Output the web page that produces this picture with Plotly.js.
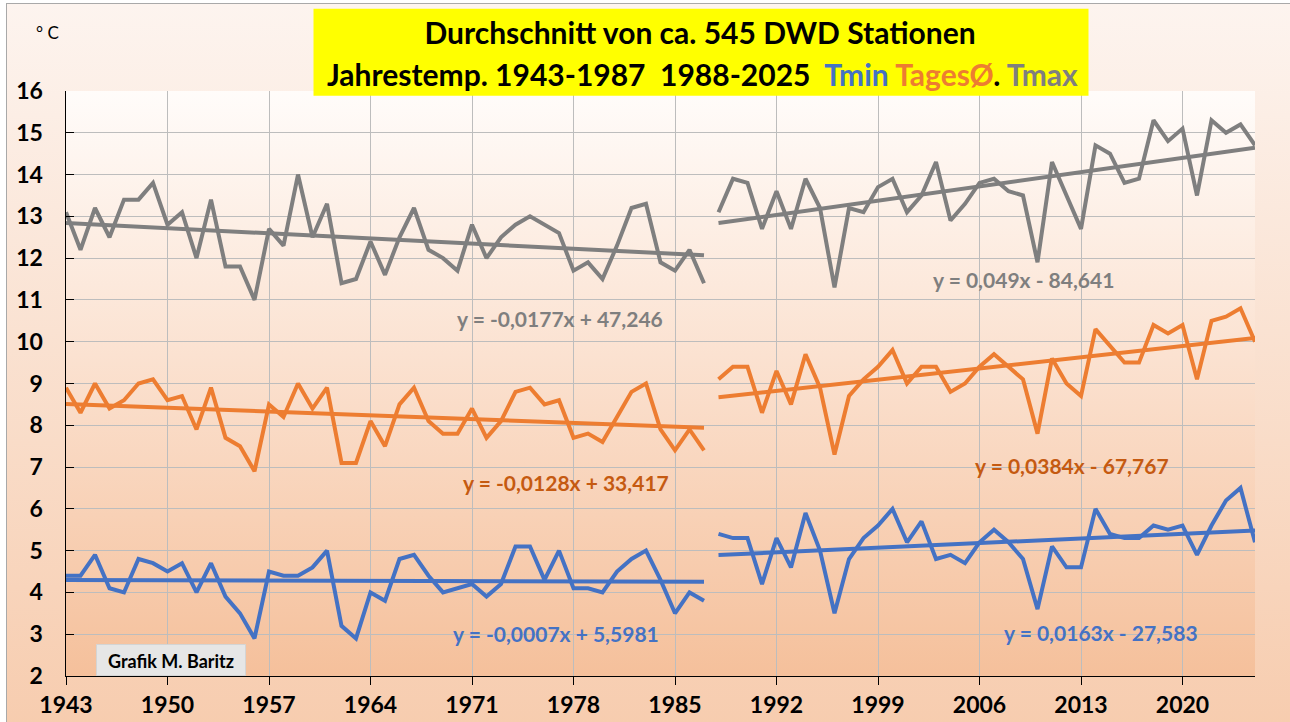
<!DOCTYPE html>
<html>
<head>
<meta charset="utf-8">
<script src="https://cdn.plot.ly/plotly-3.0.1.min.js"></script>
<style>
  html, body { margin: 0; padding: 0; background: #ffffff; }
  #wrap { position: relative; width: 1290px; height: 722px; overflow: hidden; background: #ffffff; }
  #frame { position: absolute; left: 6px; top: 3px; width: 1300px; height: 730px;
           border-left: 1px solid #a9a9a9; border-top: 1px solid #a9a9a9;
           background: linear-gradient(to bottom, #fdf4ef 0%, #f9dcc8 60%, #f7ccae 100%); }
  #plotbg { position: absolute; left: 65.5px; top: 91.3px; width: 1189px; height: 585px;
            background: linear-gradient(to bottom, #fffcfa 0%, #fbe2d1 45%, #f5c09b 100%); }
  #chart { position: absolute; left: 0; top: 0; width: 1290px; height: 722px; }
</style>
</head>
<body>
<div id="wrap">
  <div id="frame"></div>
  <div id="plotbg"></div>
  <div id="chart"></div>
</div>
<script>
// ---------- data ----------
const years1 = [1943,1944,1945,1946,1947,1948,1949,1950,1951,1952,1953,1954,1955,1956,1957,1958,1959,1960,1961,1962,1963,1964,1965,1966,1967,1968,1969,1970,1971,1972,1973,1974,1975,1976,1977,1978,1979,1980,1981,1982,1983,1984,1985,1986,1987];
const years2 = [1988,1989,1990,1991,1992,1993,1994,1995,1996,1997,1998,1999,2000,2001,2002,2003,2004,2005,2006,2007,2008,2009,2010,2011,2012,2013,2014,2015,2016,2017,2018,2019,2020,2021,2022,2023,2024,2025];

const tmax1 = [13.1,12.2,13.2,12.5,13.4,13.4,13.8,12.8,13.1,12.0,13.4,11.8,11.8,11.0,12.7,12.3,14.0,12.5,13.3,11.4,11.5,12.4,11.6,12.5,13.2,12.2,12.0,11.7,12.8,12.0,12.5,12.8,13.0,12.8,12.6,11.7,11.9,11.5,12.3,13.2,13.3,11.9,11.7,12.2,11.4];
const tmean1 = [8.9,8.3,9.0,8.4,8.6,9.0,9.1,8.6,8.7,7.9,8.9,7.7,7.5,6.9,8.5,8.2,9.0,8.4,8.9,7.1,7.1,8.1,7.5,8.5,8.9,8.1,7.8,7.8,8.4,7.7,8.1,8.8,8.9,8.5,8.6,7.7,7.8,7.6,8.2,8.8,9.0,7.9,7.4,7.9,7.4];
const tmin1 = [4.4,4.4,4.9,4.1,4.0,4.8,4.7,4.5,4.7,4.0,4.7,3.9,3.5,2.9,4.5,4.4,4.4,4.6,5.0,3.2,2.9,4.0,3.8,4.8,4.9,4.4,4.0,4.1,4.2,3.9,4.2,5.1,5.1,4.3,5.0,4.1,4.1,4.0,4.5,4.8,5.0,4.3,3.5,4.0,3.8];

const tmax2 = [13.1,13.9,13.8,12.7,13.6,12.7,13.9,13.2,11.3,13.2,13.1,13.7,13.9,13.1,13.5,14.3,12.9,13.3,13.8,13.9,13.6,13.5,11.9,14.3,13.5,12.7,14.7,14.5,13.8,13.9,15.3,14.8,15.1,13.5,15.3,15.0,15.2,14.7];
const tmean2 = [9.1,9.4,9.4,8.3,9.3,8.5,9.7,8.9,7.3,8.7,9.1,9.4,9.8,9.0,9.4,9.4,8.8,9.0,9.4,9.7,9.4,9.1,7.8,9.6,9.0,8.7,10.3,9.9,9.5,9.5,10.4,10.2,10.4,9.1,10.5,10.6,10.8,10.0];
const tmin2 = [5.4,5.3,5.3,4.2,5.3,4.6,5.9,5.0,3.5,4.8,5.3,5.6,6.0,5.2,5.7,4.8,4.9,4.7,5.2,5.5,5.2,4.8,3.6,5.1,4.6,4.6,6.0,5.4,5.3,5.3,5.6,5.5,5.6,4.9,5.6,6.2,6.5,5.2];

const equations = {
  tmax1: "y = -0,0177x + 47,246",
  tmax2: "y = 0,049x - 84,641",
  tmean1: "y = -0,0128x + 33,417",
  tmean2: "y = 0,0384x - 67,767",
  tmin1: "y = -0,0007x + 5,5981",
  tmin2: "y = 0,0163x - 27,583"
};
const xTicks = [1943,1950,1957,1964,1971,1978,1985,1992,1999,2006,2013,2020];
const yTicks = [2,3,4,5,6,7,8,9,10,11,12,13,14,15,16];

// ---------- styling ----------
const GRAY = '#7f7f7f', ORANGE = '#ed7d31', BLUE = '#4472c4';
const ORANGE_TXT = '#c55a11';
const FONT = 'Lato, "Open Sans", sans-serif';

function trend(xs, ys) {
  const n = xs.length;
  const mx = xs.reduce((a,b)=>a+b,0)/n, my = ys.reduce((a,b)=>a+b,0)/n;
  let sxy = 0, sxx = 0;
  for (let i=0;i<n;i++){ sxy += (xs[i]-mx)*(ys[i]-my); sxx += (xs[i]-mx)*(xs[i]-mx); }
  const b = sxy/sxx, a = my - b*mx;
  return {x: [xs[0], xs[n-1]], y: [a + b*xs[0], a + b*xs[n-1]]};
}

const traces = [];
function addSeries(xs, ys, color, name) {
  traces.push({x: xs, y: ys, type: 'scatter', mode: 'lines', name: name,
               line: {color: color, width: 4}, hoverinfo: 'skip'});
  const t = trend(xs, ys);
  traces.push({x: t.x, y: t.y, type: 'scatter', mode: 'lines', name: name + ' Trend',
               line: {color: color, width: 4}, hoverinfo: 'skip'});
}
addSeries(years1, tmax1, GRAY, 'Tmax 1943-1987');
addSeries(years2, tmax2, GRAY, 'Tmax 1988-2025');
addSeries(years1, tmean1, ORANGE, 'TagesØ 1943-1987');
addSeries(years2, tmean2, ORANGE, 'TagesØ 1988-2025');
addSeries(years1, tmin1, BLUE, 'Tmin 1943-1987');
addSeries(years2, tmin2, BLUE, 'Tmin 1988-2025');

function eq(text, x, y, color) {
  return {text: text, x: x, y: y, xref: 'x', yref: 'y', showarrow: false,
          xanchor: 'center', yanchor: 'middle',
          font: {family: FONT, size: 21, color: color, weight: 'bold'}};
}

const NB = '\u00a0';
const layout = {
  width: 1290, height: 722,
  margin: {l: 65.5, r: 35, t: 91.3, b: 45.5, pad: 0},
  paper_bgcolor: 'rgba(0,0,0,0)', plot_bgcolor: 'rgba(0,0,0,0)',
  showlegend: false,
  font: {family: FONT, color: '#000000'},
  title: {text: 'Durchschnitt von ca. 545 DWD Stationen',
          x: 700/1290, xref: 'container', xanchor: 'center',
          y: 1 - 33/722, yref: 'container', yanchor: 'middle',
          font: {family: FONT, size: 30, color: '#000000', weight: 'bold'}},
  xaxis: {range: [1943, 2025], tickvals: xTicks, ticktext: xTicks.map(String),
          showgrid: true, gridcolor: '#bdbdbd', gridwidth: 1,
          showline: true, linecolor: '#000000', linewidth: 1.3,
          ticks: 'outside', ticklen: 8, tickcolor: '#000000', tickwidth: 1,
          tickfont: {family: FONT, size: 23, color: '#000000', weight: 'bold'},
          zeroline: false, fixedrange: true},
  yaxis: {range: [2, 16], tickvals: yTicks,
          showgrid: true, gridcolor: '#bdbdbd', gridwidth: 1,
          showline: true, linecolor: '#000000', linewidth: 1.5,
          ticks: 'inside', ticklen: 8, tickcolor: '#000000', tickwidth: 1,
          ticklabelstandoff: 17,
          tickfont: {family: FONT, size: 23, color: '#000000', weight: 'bold'},
          zeroline: false, fixedrange: true},
  shapes: [
    {type: 'rect', xref: 'paper', yref: 'paper', layer: 'above',
     x0: (313-65.5)/1189, x1: (1088-65.5)/1189, y0: (676.5-96)/585.2, y1: (676.5-9)/585.2,
     fillcolor: '#ffff00', line: {width: 0}},
    {type: 'rect', xref: 'paper', yref: 'paper', layer: 'above',
     x0: (96-65.5)/1189, x1: (245-65.5)/1189, y0: (676.5-676)/585.2, y1: (676.5-645)/585.2,
     fillcolor: '#e6e6e6', line: {color: '#d4d4d4', width: 1}}
  ],
  annotations: [
    {text: 'Jahrestemp. 1943-1987' + NB + NB + '1988-2025' + NB + NB +
           '<span style="color:' + BLUE + '">Tmin</span> <span style="color:' + ORANGE + '">TagesØ</span>. <span style="color:' + GRAY + '">Tmax</span>',
     xref: 'paper', yref: 'paper', x: (702-65.5)/1189, y: (676.5-74)/585.2,
     xanchor: 'center', yanchor: 'middle', showarrow: false,
     font: {family: FONT, size: 30, color: '#000000', weight: 'bold'}},
    {text: '° C', xref: 'paper', yref: 'paper', x: (47-65.5)/1189, y: (676.5-33)/585.2,
     xanchor: 'center', yanchor: 'middle', showarrow: false,
     font: {family: FONT, size: 17, color: '#000000'}},
    {text: 'Grafik M. Baritz', xref: 'paper', yref: 'paper', x: (170.5-65.5)/1189, y: (676.5-661)/585.2,
     xanchor: 'center', yanchor: 'middle', showarrow: false,
     font: {family: FONT, size: 18, color: '#000000', weight: 'bold'}},
    eq(equations.tmax1, 1977.1, 10.55, GRAY),
    eq(equations.tmax2, 2009.0, 11.49, GRAY),
    eq(equations.tmean1, 1977.5, 6.63, ORANGE_TXT),
    eq(equations.tmean2, 2012.4, 7.04, ORANGE_TXT),
    eq(equations.tmin1, 1976.8, 3.02, BLUE),
    eq(equations.tmin2, 2014.4, 3.05, BLUE)
  ]
};

Plotly.newPlot('chart', traces, layout, {displayModeBar: false, staticPlot: true});
</script>
</body>
</html>
